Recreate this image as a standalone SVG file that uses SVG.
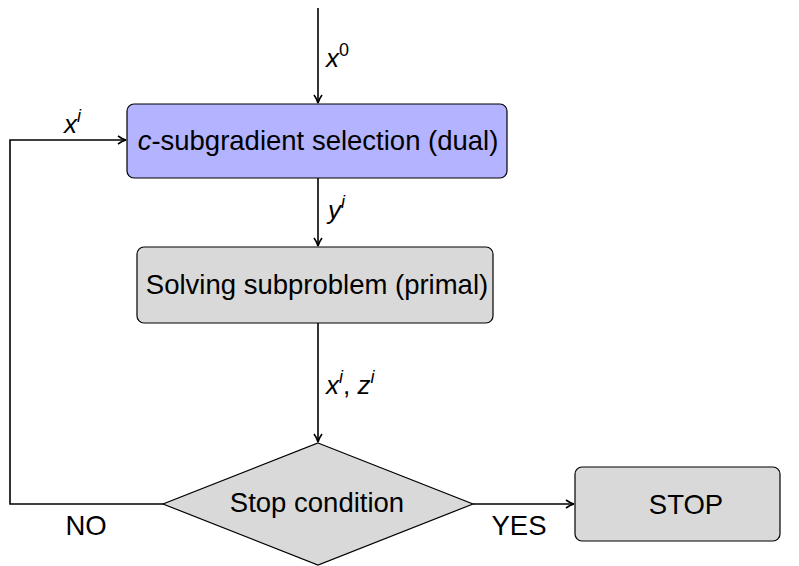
<svg xmlns="http://www.w3.org/2000/svg" width="799" height="566" viewBox="0 0 799 566">
  <defs>
    <marker id="arrow" viewBox="0 0 10 10" refX="9" refY="5" markerWidth="10" markerHeight="10" markerUnits="userSpaceOnUse" orient="auto">
      <path d="M1,1 Q5,4 9,5 Q5,6 1,9" fill="none" stroke="#000" stroke-width="1.6"/>
    </marker>
    <style>
      .node { stroke: #000; stroke-width: 1.2; }
      .grey { fill: #d9d9d9; }
      .blue { fill: #b3b3ff; }
      .label { font-family: "Liberation Sans", "DejaVu Sans", sans-serif; font-size: 27.5px; fill: #000; }
      .math { font-family: "Liberation Sans", "DejaVu Sans", sans-serif; font-style: italic; font-size: 26px; fill: #000; }
      .sup { font-size: 18px; }
      .edge { fill: none; stroke: #000; stroke-width: 1.6; }
    </style>
  </defs>
  <rect width="799" height="566" fill="#fff"/>

  <!-- connectors -->
  <g id="edges">
    <line class="edge" x1="318" y1="8" x2="318" y2="103" marker-end="url(#arrow)"/>
    <line class="edge" x1="318" y1="178" x2="318" y2="246" marker-end="url(#arrow)"/>
    <line class="edge" x1="318" y1="323" x2="318" y2="442" marker-end="url(#arrow)"/>
    <polyline class="edge" points="163,504 10,504 10,140 126,140" marker-end="url(#arrow)"/>
    <line class="edge" x1="473" y1="504" x2="574" y2="504" marker-end="url(#arrow)"/>

    <text class="math" x="326" y="67">x<tspan class="sup" dy="-11" font-style="normal">0</tspan></text>
    <text class="math" x="328" y="219">y<tspan class="sup" dy="-11">i</tspan></text>
    <text class="math" x="326" y="394">x<tspan class="sup" dy="-11">i</tspan><tspan dy="11" font-style="normal">, </tspan>z<tspan class="sup" dy="-11">i</tspan></text>
    <text class="math" x="64" y="133">x<tspan class="sup" dy="-11">i</tspan></text>
    <text class="label" x="86" y="535" text-anchor="middle">NO</text>
    <text class="label" x="519" y="535" text-anchor="middle">YES</text>
  </g>

  <g id="dual">
    <rect class="node blue" x="127" y="104" width="380" height="74" rx="7"/>
    <text class="label" x="318" y="150" text-anchor="middle"><tspan font-style="italic">c</tspan>-subgradient selection (dual)</text>
  </g>

  <g id="primal">
    <rect class="node grey" x="137" y="247" width="356" height="76" rx="7"/>
    <text class="label" x="317" y="294" text-anchor="middle">Solving subproblem (primal)</text>
  </g>

  <g id="stop-condition">
    <polygon class="node grey" points="318,443 473,504 318,565 163,504"/>
    <text class="label" x="317" y="512" text-anchor="middle">Stop condition</text>
  </g>

  <g id="stop">
    <rect class="node grey" x="575" y="467" width="205" height="74" rx="7"/>
    <text class="label" x="686" y="514" text-anchor="middle">STOP</text>
  </g>
</svg>
